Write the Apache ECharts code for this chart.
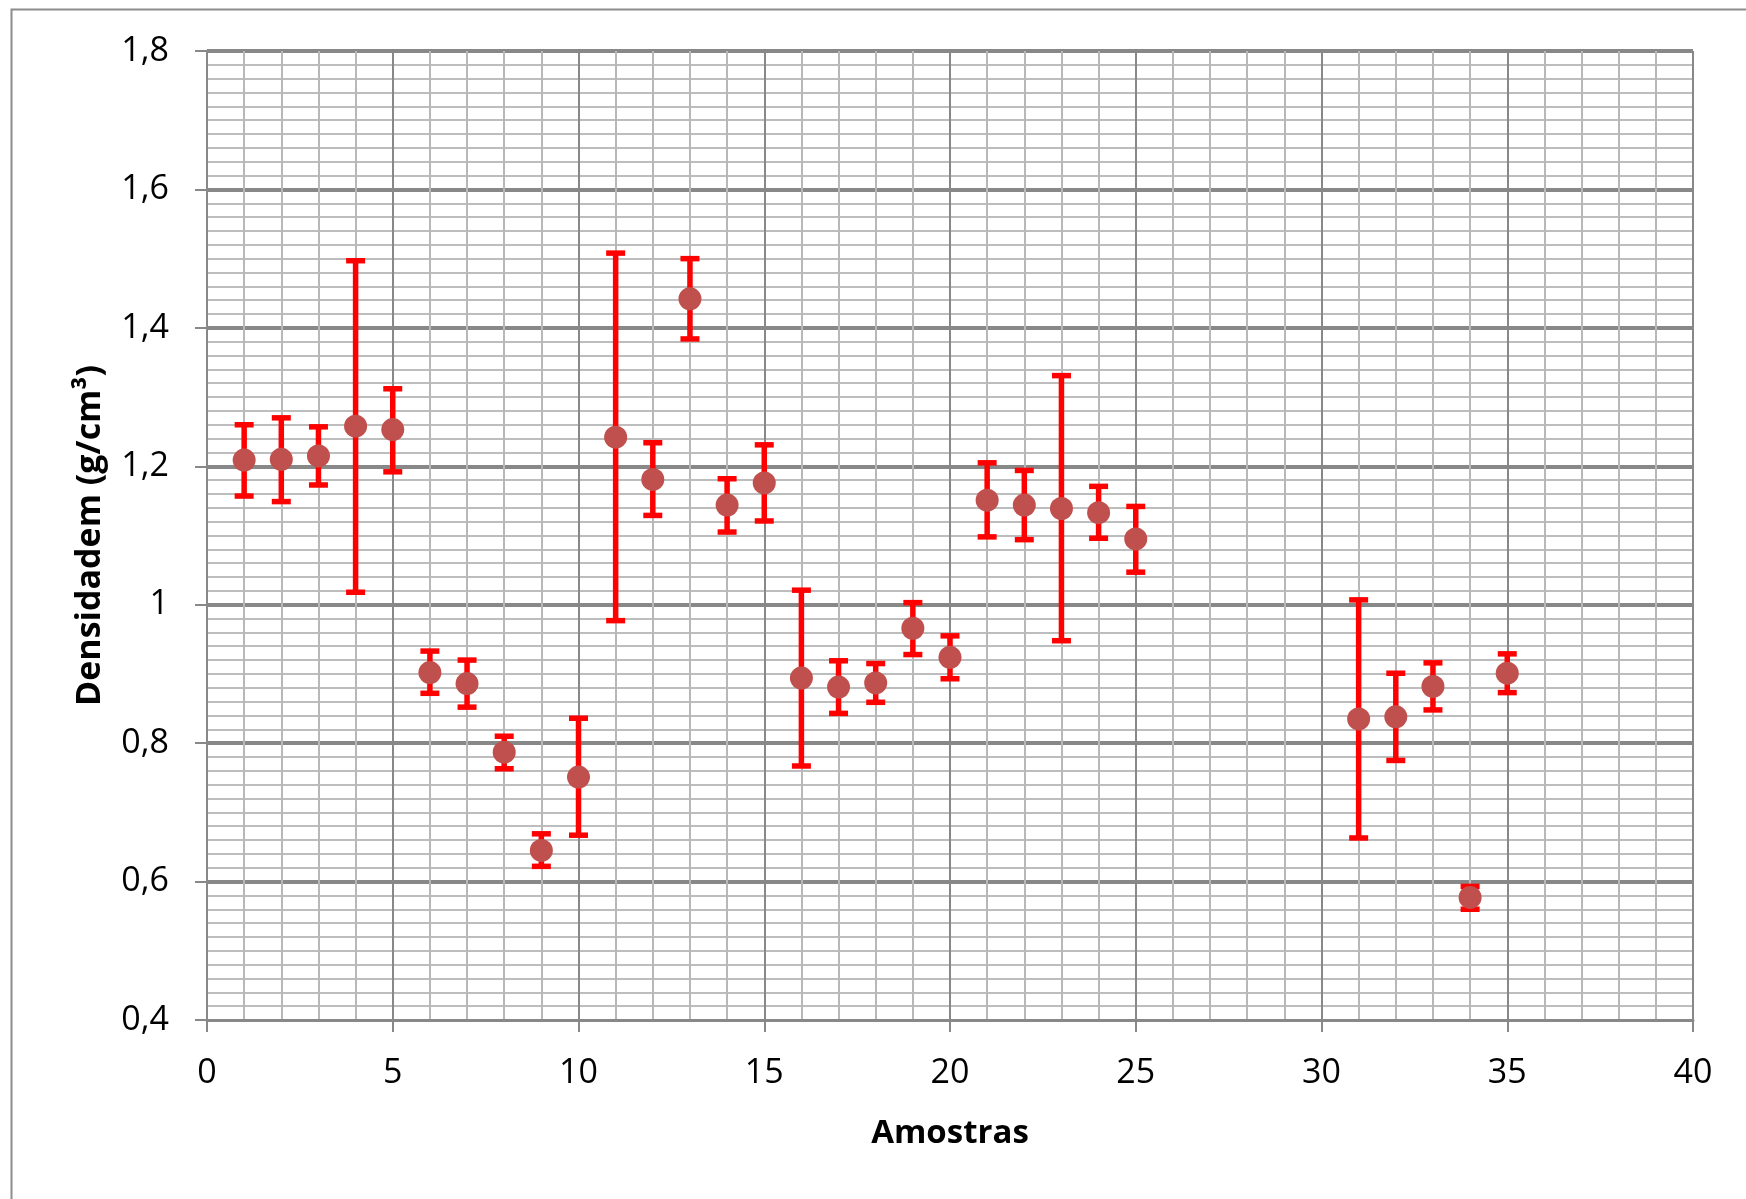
<!DOCTYPE html>
<html>
<head>
<meta charset="utf-8">
<script src="https://cdn.jsdelivr.net/npm/echarts@6/dist/echarts.min.js"></script>
<style>
html,body{margin:0;padding:0;background:#fff;}
#chart{width:1746px;height:1199px;}
</style>
</head>
<body>
<div id="chart"></div>
<script>
// Sample numbers (x)
const samples = [1,2,3,4,5,6,7,8,9,10,11,12,13,14,15,16,17,18,19,20,21,22,23,24,25,31,32,33,34,35];
// Mean density (g/cm³)
const density = [1.209,1.210,1.215,1.258,1.253,0.902,0.886,0.787,0.645,0.751,1.242,1.181,1.442,1.144,1.176,0.894,0.881,0.887,0.966,0.924,1.151,1.144,1.139,1.133,1.095,0.835,0.838,0.882,0.577,0.901];
// Error bar upper bound
const errHigh = [1.260,1.270,1.257,1.497,1.312,0.933,0.920,0.810,0.669,0.836,1.508,1.234,1.500,1.182,1.231,1.021,0.919,0.915,1.003,0.955,1.205,1.194,1.331,1.171,1.142,1.007,0.901,0.916,0.593,0.929];
// Error bar lower bound
const errLow = [1.157,1.149,1.173,1.018,1.192,0.872,0.852,0.763,0.622,0.667,0.977,1.129,1.384,1.105,1.121,0.767,0.843,0.859,0.928,0.893,1.098,1.094,0.948,1.096,1.047,0.663,0.775,0.848,0.560,0.873];

const xTitle = 'Amostras';
const yTitle = 'Densidadem (g/cm³)';

const scatterData = samples.map((s, i) => [s, density[i]]);
const errData = samples.map((s, i) => [s, errLow[i], errHigh[i]]);

const FONT = '"Open Sans", "Noto Sans", sans-serif';
const chart = echarts.init(document.getElementById('chart'), null, {renderer: 'canvas'});

chart.setOption({
  animation: false,
  backgroundColor: '#ffffff',
  graphic: [{
    type: 'rect',
    left: 9, top: 7,
    shape: {x: 0, y: 0, width: 1760, height: 1230},
    style: {fill: 'none', stroke: '#8c8c8c', lineWidth: 2},
    silent: true
  }],
  grid: {left: 207, right: 53, top: 51, bottom: 179},
  xAxis: {
    type: 'value',
    min: 0, max: 40, interval: 5,
    name: xTitle,
    nameLocation: 'middle',
    nameGap: 97,
    nameTextStyle: {fontFamily: FONT, fontSize: 33, fontWeight: 'bold', color: '#000'},
    axisLine: {show: true, lineStyle: {color: '#888', width: 3}},
    axisTick: {show: true, length: 12, lineStyle: {color: '#888', width: 2}},
    axisLabel: {fontFamily: FONT, fontSize: 34, color: '#000', margin: 36},
    splitLine: {show: true, showMinLine: false, lineStyle: {color: '#888', width: 2}},
    minorTick: {show: false, splitNumber: 5},
    minorSplitLine: {show: true, lineStyle: {color: '#b8b8b8', width: 2}}
  },
  yAxis: {
    type: 'value',
    min: 0.4, max: 1.8, interval: 0.2,
    name: yTitle,
    nameLocation: 'middle',
    nameGap: 100,
    nameTextStyle: {fontFamily: FONT, fontSize: 34, fontWeight: 'bold', color: '#000'},
    axisLine: {show: true, lineStyle: {color: '#888', width: 2}},
    axisTick: {show: true, length: 12, lineStyle: {color: '#888', width: 2}},
    axisLabel: {
      fontFamily: FONT, fontSize: 34, color: '#000', margin: 38,
      formatter: v => String(Number(v.toFixed(1))).replace('.', ',')
    },
    splitLine: {show: true, showMinLine: false, lineStyle: {color: '#888', width: 4}},
    minorTick: {show: false, splitNumber: 10},
    minorSplitLine: {show: true, lineStyle: {color: '#bdbdbd', width: 2}}
  },
  series: [
    {
      type: 'custom',
      name: 'erro',
      data: errData,
      encode: {x: 0, y: [1, 2]},
      z: 3,
      renderItem: function (params, api) {
        const x = api.value(0);
        const pLo = api.coord([x, api.value(1)]);
        const pHi = api.coord([x, api.value(2)]);
        const w = 9.5;
        const st = {stroke: '#ff0000', lineWidth: 5.5};
        return {
          type: 'group',
          children: [
            {type: 'line', shape: {x1: pHi[0], y1: pHi[1], x2: pLo[0], y2: pLo[1]}, style: st},
            {type: 'line', shape: {x1: pHi[0] - w, y1: pHi[1], x2: pHi[0] + w, y2: pHi[1]}, style: st},
            {type: 'line', shape: {x1: pLo[0] - w, y1: pLo[1], x2: pLo[0] + w, y2: pLo[1]}, style: st}
          ]
        };
      }
    },
    {
      type: 'scatter',
      name: 'Densidade',
      data: scatterData,
      symbol: 'circle',
      symbolSize: 23,
      z: 4,
      itemStyle: {color: '#C0504D', opacity: 1}
    }
  ]
});
</script>
</body>
</html>
